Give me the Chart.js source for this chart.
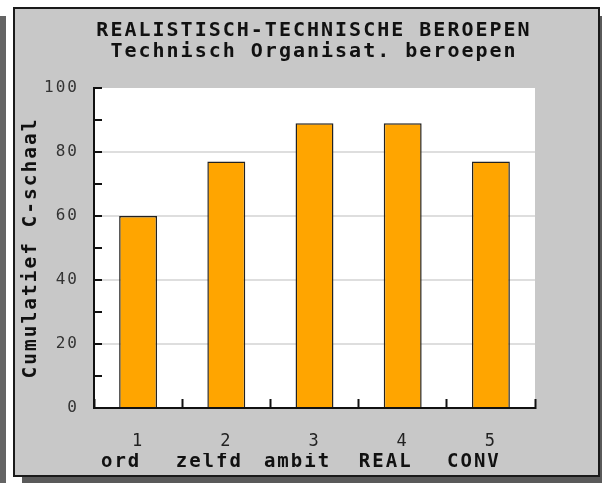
<!DOCTYPE html>
<html>
<head>
<meta charset="utf-8">
<script src="https://cdn.jsdelivr.net/npm/chart.js@4/dist/chart.umd.min.js"></script>
<style>
  html, body { margin: 0; padding: 0; background: #ffffff; }
  #c { display: block; }
</style>
</head>
<body>
<canvas id="c" width="602" height="483"></canvas>
<script>
// ---- data ----
const numberLabels = ['1', '2', '3', '4', '5'];
const nameLabels = ['ord', 'zelfd', 'ambit', 'REAL', 'CONV'];
const values = [60, 77, 89, 89, 77];
const titleLines = ['REALISTISCH-TECHNISCHE BEROEPEN', 'Technisch Organisat. beroepen'];
const yTitle = 'Cumulatief C-schaal';

const FONT = '"DejaVu Sans Mono", "Liberation Mono", monospace';
Chart.defaults.font.family = FONT;

const SPACING = '2px';
const spacingPlugin = {
  id: 'spacing',
  beforeUpdate(chart) { chart.ctx.letterSpacing = SPACING; },
  beforeLayout(chart) { chart.ctx.letterSpacing = SPACING; },
  beforeDraw(chart) { chart.ctx.letterSpacing = SPACING; }
};

const framePlugin = {
  id: 'frame',
  beforeDraw(chart) {
    const ctx = chart.ctx;
    const a = chart.chartArea;
    ctx.save();
    ctx.fillStyle = '#ffffff';
    ctx.fillRect(0, 0, chart.width, chart.height);
    // left dark strip
    ctx.fillStyle = '#646464';
    ctx.fillRect(0, 16, 6, chart.height - 16);
    // shadow
    ctx.fillStyle = '#5a5a5a';
    ctx.fillRect(22, 477, chart.width - 22, 6);
    ctx.fillRect(599, 16, 3, chart.height - 16);
    // panel
    ctx.fillStyle = '#c8c8c8';
    ctx.fillRect(14, 8, 585, 468);
    ctx.strokeStyle = '#1a1a1a';
    ctx.lineWidth = 2;
    ctx.strokeRect(14, 8, 585, 468);
    // plot area
    ctx.fillStyle = '#ffffff';
    ctx.fillRect(a.left, a.top, a.right - a.left, a.bottom - a.top);
    ctx.restore();
  }
};

new Chart(document.getElementById('c'), {
  type: 'bar',
  data: {
    labels: numberLabels,
    datasets: [{
      data: values,
      backgroundColor: '#ffa500',
      borderColor: '#222222',
      borderWidth: 1.5,
      barPercentage: 0.43,
      categoryPercentage: 1.0,
      xAxisID: 'x',
      yAxisID: 'y'
    }]
  },
  options: {
    responsive: false,
    animation: false,
    devicePixelRatio: 1,
    layout: { padding: { left: 26, right: 0, top: 0, bottom: 0 } },
    plugins: {
      legend: { display: false },
      tooltip: { enabled: false },
      title: {
        display: true,
        text: titleLines,
        color: '#111111',
        font: { size: 20, weight: 'bold', family: FONT, lineHeight: 1.05 },
        padding: { top: 20, bottom: 26 }
      }
    },
    scales: {
      x: {
        type: 'category',
        position: 'bottom',
        weight: 0,
        offset: true,
        border: { display: true, color: '#111111', width: 2 },
        grid: {
          display: true,
          offset: true,
          drawOnChartArea: false,
          drawTicks: true,
          tickLength: -9,
          tickColor: '#111111',
          tickWidth: 2
        },
        ticks: { display: false },
        afterFit(s) { s.height = 0; }
      },
      xn: {
        type: 'category',
        position: 'bottom',
        weight: 1,
        labels: numberLabels,
        offset: true,
        border: { display: false },
        grid: { display: false, drawTicks: false },
        ticks: {
          color: '#222222',
          padding: 23,
          maxRotation: 0,
          autoSkip: false,
          font: { size: 17, family: FONT }
        },
        afterFit(s) { s.height = 45; }
      },
      xl: {
        type: 'category',
        position: 'bottom',
        weight: 2,
        labels: nameLabels,
        offset: true,
        border: { display: false },
        grid: { display: false, drawTicks: false },
        ticks: {
          color: '#111111',
          padding: -2,
          labelOffset: -17,
          maxRotation: 0,
          autoSkip: false,
          font: { size: 19, weight: 'bold', family: FONT }
        },
        afterFit(s) { s.height = 30; }
      },
      y: {
        type: 'linear',
        position: 'left',
        min: 0,
        max: 100,
        border: { display: true, color: '#111111', width: 2 },
        grid: {
          drawOnChartArea: true,
          drawTicks: true,
          tickLength: -8,
          tickColor: '#111111',
          tickWidth: 2,
          lineWidth: 2,
          color: (c) => (c.tick && c.tick.value % 20 === 0 && c.tick.value !== 0 && c.tick.value !== 100) ? '#dedede' : 'rgba(0,0,0,0)'
        },
        ticks: {
          stepSize: 10,
          padding: 23,
          color: '#333333',
          font: { size: 16, family: FONT },
          callback: (v) => (v % 20 === 0 ? String(v) : '')
        },
        title: {
          display: true,
          text: yTitle,
          color: '#111111',
          font: { size: 19.5, weight: 'bold', family: FONT, lineHeight: 1.1 },
          padding: { top: -6, bottom: 0 }
        },
        afterFit(s) { s.width = 68; }
      },
      yr: {
        type: 'linear',
        position: 'right',
        display: true,
        border: { display: false },
        grid: { display: false, drawTicks: false },
        ticks: { display: false },
        afterFit(s) { s.width = 67; }
      }
    }
  },
  plugins: [spacingPlugin, framePlugin]
});
</script>
</body>
</html>
